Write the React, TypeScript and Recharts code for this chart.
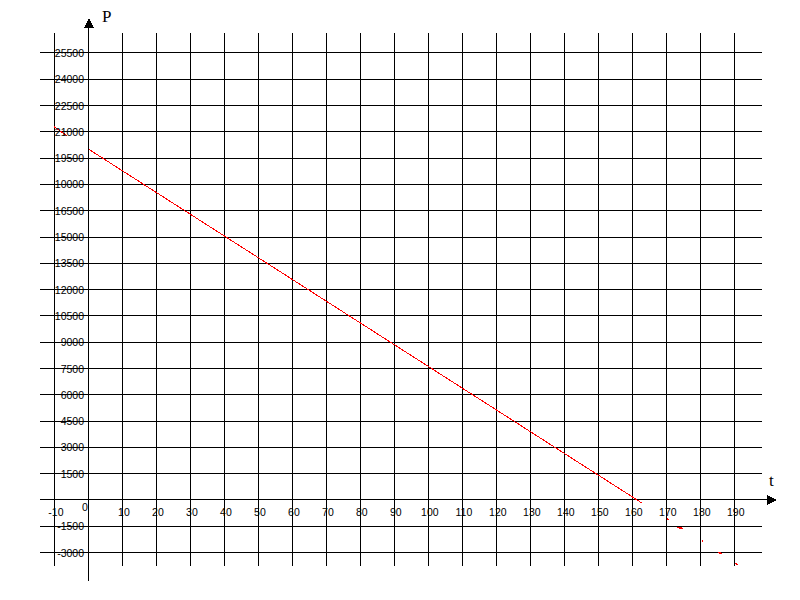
import React from "react";
import {
  ComposedChart,
  Line,
  XAxis,
  YAxis,
  ReferenceLine,
  ReferenceDot,
} from "recharts";

// time ticks along the horizontal axis
const xTicks = [-10, 0, 10, 20, 30, 40, 50, 60, 70, 80, 90, 100, 110, 120, 130, 140, 150, 160, 170, 180, 190];

// P gridlines and the text printed next to each (the 18000 line is printed "10000" in the original)
const yTicks = [-3000, -1500, 0, 1500, 3000, 4500, 6000, 7500, 9000, 10500, 12000, 13500, 15000, 16500, 18000, 19500, 21000, 22500, 24000, 25500];
const yTickLabels = ["-3000", "-1500", "", "1500", "3000", "4500", "6000", "7500", "9000", "10500", "12000", "13500", "15000", "16500", "10000", "19500", "21000", "22500", "24000", "25500"];

// main red line
const tValues = [0, 10, 20, 30, 40, 50, 60, 70, 80, 90, 100, 110, 120, 130, 140, 150, 160, 162.8];
const pValues = [20000, 18760, 17520, 16280, 15040, 13800, 12560, 11320, 10080, 8840, 7600, 6360, 5120, 3880, 2640, 1400, 160, -190];

// stray bits of the same line, left of the axis and past t=160
const stubT = [-10.3, -6.5];
const stubP = [21300, 20780];
const tailT = [170.0, 170.5, 171, 173.0, 174.7, 175, 180.3, 180.6, 181, 185.0, 186.2, 187, 190.2, 190.8];
const tailP = [-1080, -1120, null, -1560, -1620, null, -2330, -2350, null, -2990, -3060, null, -3600, -3680];

const mainData = tValues.map((t, i) => ({ t, P: pValues[i] }));
const stubData = stubT.map((t, i) => ({ t, P: stubP[i] }));
const tailData = tailT.map((t, i) => ({ t, P: tailP[i] }));

const tickFont = { fontFamily: "'Liberation Sans', Arial, sans-serif", fontSize: 10.5 };
const letterFont = { fontFamily: "'Liberation Serif', 'Times New Roman', serif", fontSize: 17 };

function XTick(props: any) {
  const { x, payload } = props;
  const zero = payload.value === 0;
  return (
    <text
      x={zero ? x - 4 : x + 1}
      y={zero ? 507 : 512}
      textAnchor="middle"
      dominantBaseline="central"
      fill="#000"
      style={tickFont}
    >
      {payload.value}
    </text>
  );
}

function YTick(props: any) {
  const { y, payload } = props;
  const label = yTickLabels[yTicks.indexOf(payload.value)];
  if (!label) return null;
  return (
    <text x={84} y={y} textAnchor="end" dominantBaseline="central" fill="#000" style={tickFont}>
      {label}
    </text>
  );
}

const UpArrow = (props: any) => {
  const { cx, cy } = props;
  return (
    <g>
      <polygon points={`${cx},${cy} ${cx - 5},${cy + 10} ${cx + 5},${cy + 10}`} fill="#000" />
      <text x={cx + 13} y={cy + 4} fill="#000" style={letterFont}>P</text>
    </g>
  );
};

const RightArrow = (props: any) => {
  const { cx, cy } = props;
  return (
    <g>
      <polygon points={`${cx},${cy} ${cx - 10},${cy - 5} ${cx - 10},${cy + 5}`} fill="#000" />
      <text x={cx - 8} y={cy - 14} fill="#000" style={letterFont}>t</text>
    </g>
  );
};

export default function App() {
  return (
    <div className="chart" style={{ position: "absolute", left: 0, top: 0, background: "#fff" }}>
      <style>{`.chart svg line, .chart svg path, .chart svg polygon { shape-rendering: crispEdges; }`}</style>
      <ComposedChart width={800} height={600} margin={{ top: 33, right: 38, bottom: 0, left: 0 }}>
        <XAxis
          dataKey="t"
          type="number"
          domain={[-14.4, 198]}
          allowDataOverflow
          ticks={xTicks}
          interval={0}
          height={34}
          axisLine={false}
          tickLine={false}
          tick={<XTick />}
        />
        <YAxis
          type="number"
          domain={[-3765, 26640]}
          allowDataOverflow
          ticks={yTicks}
          interval={0}
          width={40}
          axisLine={false}
          tickLine={false}
          tick={<YTick />}
        />
        {xTicks.map((t) => (
          <ReferenceLine key={`vx${t}`} x={t} stroke="#000" strokeWidth={1} />
        ))}
        {yTicks.map((p) => (
          <ReferenceLine key={`hy${p}`} y={p} stroke="#000" strokeWidth={1} />
        ))}
        <ReferenceLine
          segment={[{ x: -14.4, y: 0 }, { x: 199.5, y: 0 }]}
          stroke="#000"
          strokeWidth={1}
          ifOverflow="visible"
        />
        <ReferenceLine
          segment={[{ x: 0, y: -4620 }, { x: 0, y: 26990 }]}
          stroke="#000"
          strokeWidth={1}
          ifOverflow="visible"
        />
        <ReferenceDot x={0} y={27500} r={0} ifOverflow="visible" shape={UpArrow} />
        <ReferenceDot x={202.4} y={0} r={0} ifOverflow="visible" shape={RightArrow} />
        <Line data={mainData} dataKey="P" stroke="#ff0000" strokeWidth={1} dot={false} activeDot={false} isAnimationActive={false} />
        <Line data={stubData} dataKey="P" stroke="#ff0000" strokeWidth={1} dot={false} activeDot={false} isAnimationActive={false} />
        <Line data={tailData} dataKey="P" stroke="#ff0000" strokeWidth={1.5} dot={false} activeDot={false} connectNulls={false} isAnimationActive={false} />
      </ComposedChart>
    </div>
  );
}
